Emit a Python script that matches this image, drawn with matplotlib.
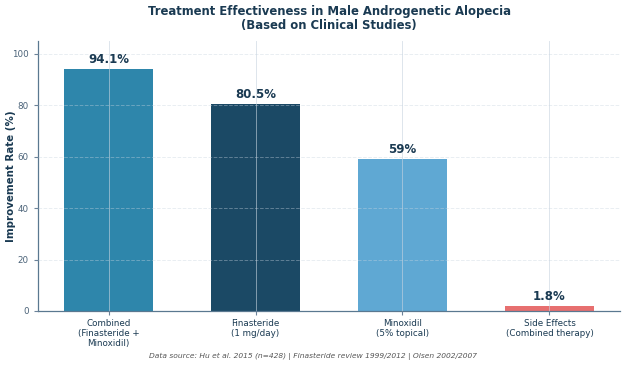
import matplotlib
matplotlib.use("Agg")
import matplotlib.pyplot as plt

categories = ["Combined\n(Finasteride +\nMinoxidil)", "Finasteride\n(1 mg/day)",
              "Minoxidil\n(5% topical)", "Side Effects\n(Combined therapy)"]
values = [94.1, 80.5, 59, 1.8]
labels = ["94.1%", "80.5%", "59%", "1.8%"]
colors = ["#2e86ab", "#1b4965", "#5fa8d3", "#e76f6f"]

dark = "#1a3a52"
fig, ax = plt.subplots(figsize=(6.26, 3.66), dpi=100)
x = list(range(len(categories)))
bars = ax.bar(x, values, width=0.6, color=colors, zorder=1)
for b, lab in zip(bars, labels):
    ax.text(b.get_x() + b.get_width() / 2, b.get_height() + 1.2, lab,
            ha="center", va="bottom", fontsize=8.5, fontweight="bold", color=dark, zorder=3)

ax.set_xticks(x)
ax.set_xticklabels(categories, fontsize=6.3, color=dark, linespacing=1.15)
ax.set_ylim(0, 105)
ax.set_yticks([0, 20, 40, 60, 80, 100])
ax.tick_params(axis="y", labelsize=6.3, labelcolor="#4a6278", color="#6b8299", length=3)
ax.tick_params(axis="x", color="#6b8299", length=3, pad=2.5)
ax.set_ylabel("Improvement Rate (%)", fontsize=7.4, fontweight="bold", color=dark)
ax.yaxis.set_label_coords(-0.037, 0.5)
ax.set_title("Treatment Effectiveness in Male Androgenetic Alopecia\n(Based on Clinical Studies)",
             fontsize=8.4, fontweight="bold", color=dark, linespacing=1.05, pad=9)
ax.yaxis.grid(True, linestyle="--", color="#c8d4e0", alpha=0.4, linewidth=0.7, zorder=2)
ax.xaxis.grid(True, linestyle="-", color="#c8d4e0", alpha=0.6, linewidth=0.7, zorder=2)
ax.set_axisbelow(False)
for s in ["top", "right"]:
    ax.spines[s].set_visible(False)
for s in ["left", "bottom"]:
    ax.spines[s].set_color("#5a7890")
    ax.spines[s].set_linewidth(0.9)

fig.text(0.5, 1 - 356 / 366, "Data source: Hu et al. 2015 (n=428) | Finasteride review 1999/2012 | Olsen 2002/2007",
         ha="center", va="center", fontsize=5.4, style="italic", color="#555555")
fig.subplots_adjust(left=38 / 626, right=620 / 626, top=1 - 41 / 366, bottom=1 - 311 / 366)
fig.savefig("out.png", dpi=100)
